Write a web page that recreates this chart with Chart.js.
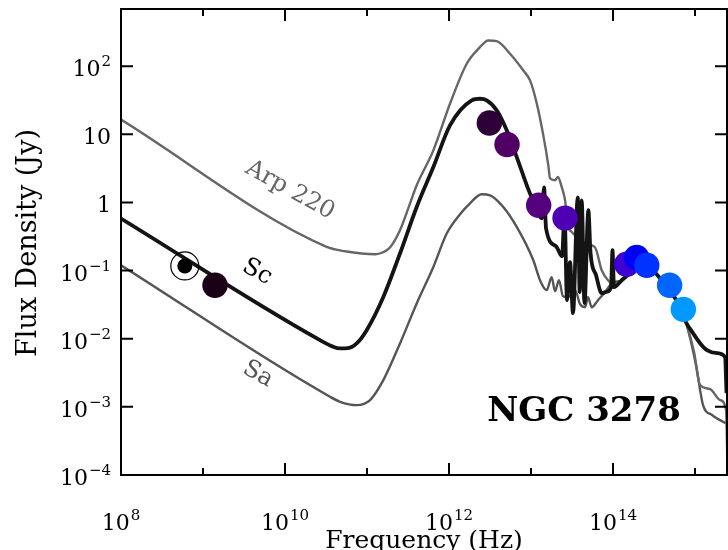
<!DOCTYPE html>
<html>
<head>
<meta charset="utf-8">
<script src="https://cdn.jsdelivr.net/npm/chart.js@4.4.0/dist/chart.umd.min.js"></script>
<style>
  html, body { margin: 0; padding: 0; background: #fff; }
</style>
</head>
<body>
<canvas id="sed" width="728" height="550"></canvas>
<script>
// templates as log10(nu) / log10(F)
const scLogNu = [8.000, 10.427, 10.585, 10.671, 10.768, 10.874, 10.996, 11.199, 11.402, 11.606, 11.809, 12.012, 12.277, 12.378, 12.460, 12.582, 12.704, 12.826, 12.988, 13.134, 13.159, 13.183, 13.305, 13.378, 13.409, 13.439, 13.476, 13.512, 13.570, 13.594, 13.618, 13.652, 13.699, 13.726, 13.793, 13.862, 13.927, 13.976, 13.994, 14.012, 14.106, 14.207, 14.329, 14.451, 14.573, 14.695, 14.817, 14.890, 14.976, 15.061, 15.146, 15.268, 15.366, 15.384]
const scLogF  = [-0.236, -2.021, -2.116, -2.142, -2.138, -2.069, -1.874, -1.386, -0.749, -0.066, 0.520, 1.132, 1.499, 1.523, 1.499, 1.352, 1.059, 0.667, 0.130, -0.232, 0.223, -0.378, -0.642, -0.789, -0.173, -1.434, -0.877, -1.625, 0.076, -1.317, 0.032, -1.478, -0.114, -0.745, -1.067, -1.331, -1.309, -1.243, -0.701, -1.243, -1.141, -1.038, -0.935, -0.965, -1.111, -1.302, -1.522, -1.757, -1.918, -2.065, -2.167, -2.211, -2.270, -2.798]

const arpLogNu = [8.000, 10.508, 10.732, 11.101, 11.195, 11.280, 11.402, 11.524, 11.606, 11.809, 12.012, 12.216, 12.378, 12.479, 12.582, 12.744, 12.906, 12.988, 13.070, 13.150, 13.211, 13.232, 13.293, 13.329, 13.374, 13.415, 13.451, 13.500, 13.573, 13.683, 13.780, 13.862, 13.939, 14.024, 14.106, 14.207, 14.329, 14.451, 14.573, 14.695, 14.817, 14.890, 14.988, 15.061, 15.183, 15.305, 15.378, 15.396]
const arpLogF  = [1.216, -0.652, -0.716, -0.760, -0.730, -0.661, -0.408, -0.016, 0.252, 0.765, 1.450, 2.037, 2.280, 2.378, 2.368, 2.183, 1.938, 1.792, 1.455, 0.985, 0.545, 0.355, 0.326, 0.374, 0.227, 0.032, -0.334, -0.437, -0.510, -0.613, -0.657, -0.994, -1.141, -1.214, -1.155, -1.038, -0.935, -0.965, -1.111, -1.302, -1.522, -1.757, -2.196, -2.680, -2.739, -2.900, -3.047, -3.853]

const saLogNu = [8.000, 10.549, 10.671, 10.874, 11.037, 11.199, 11.402, 11.606, 11.809, 11.972, 12.134, 12.256, 12.399, 12.500, 12.662, 12.826, 13.028, 13.110, 13.191, 13.252, 13.293, 13.341, 13.390, 13.451, 13.537, 13.598, 13.659, 13.695, 13.740, 13.817, 13.902, 13.984, 14.106, 14.207, 14.329, 14.451, 14.573, 14.695, 14.817, 14.890, 15.012, 15.098, 15.207, 15.396]
const saLogF  = [-0.921, -2.852, -2.925, -2.974, -2.900, -2.607, -2.069, -1.482, -0.946, -0.456, -0.173, -0.012, 0.120, 0.106, -0.066, -0.359, -0.848, -1.141, -1.287, -1.097, -1.302, -1.141, -1.375, -1.390, -1.287, -1.493, -1.537, -1.390, -1.537, -1.434, -1.317, -1.189, -1.141, -1.038, -0.935, -0.965, -1.111, -1.302, -1.522, -1.757, -2.387, -2.974, -3.120, -3.252]

// NGC 3278 photometry (Hz, Jy)
const obsFreq  = [1.4e9, 3.1e12, 5.1e12, 1.24e13, 2.6e13, 1.47e14, 1.94e14, 2.58e14, 4.9e14, 7.2e14]
const obsFlux  = [0.061, 14.7, 7.1, 0.91, 0.59, 0.124, 0.156, 0.12, 0.061, 0.027]
const obsColor = ['#1c0016', '#2e0038', '#500064', '#55007f', '#5000b4', '#3c00d2', '#0000f5', '#0033ff', '#0066ff', '#0099ff']
const lowFreq = [6.0e8]
const lowFlux = [0.117]

const xDecades = [8, 9, 10, 11, 12, 13, 14, 15]
const xLabeled = [8, 10, 12, 14]
const yDecades = [-4, -3, -2, -1, 0, 1, 2]

const SERIF = '"DejaVu Serif", serif'

const toXY = (nu, f) => nu.map((v, i) => ({x: Math.pow(10, v), y: Math.pow(10, f[i])}))

const pow10Label = (ctx, e, x, y, align, size) => {
    let base = '10', sup = String(e).replace('-', '\u2212')
    if (e === 0) { base = '1'; sup = '' }
    if (e === 1) { sup = '' }
    ctx.font = size + 'px ' + SERIF
    const wb = ctx.measureText(base).width
    ctx.font = Math.round(size * 0.68) + 'px ' + SERIF
    const ws = sup ? ctx.measureText(sup).width + 1 : 0
    const total = wb + ws
    let x0 = align === 'right' ? x - total : x - total / 2
    ctx.textAlign = 'left'
    ctx.textBaseline = 'alphabetic'
    ctx.font = size + 'px ' + SERIF
    ctx.fillText(base, x0, y)
    if (sup) {
        ctx.font = Math.round(size * 0.68) + 'px ' + SERIF
        ctx.fillText(sup, x0 + wb + 1, y - size * 0.45)
    }
}

const framePlugin = {
    id: 'frame',
    afterDraw(chart) {
        const ctx = chart.ctx
        const a = chart.chartArea
        const xs = chart.scales.x, ys = chart.scales.y
        ctx.save()
        ctx.strokeStyle = '#000'
        ctx.fillStyle = '#000'
        ctx.lineWidth = 2
        ctx.strokeRect(a.left, a.top, a.right - a.left, a.bottom - a.top)
        ctx.beginPath()
        xDecades.forEach(d => {
            const px = xs.getPixelForValue(Math.pow(10, d))
            const len = xLabeled.includes(d) ? 12 : 7
            ctx.moveTo(px, a.bottom); ctx.lineTo(px, a.bottom - len)
            ctx.moveTo(px, a.top); ctx.lineTo(px, a.top + len)
        })
        yDecades.forEach(d => {
            const py = ys.getPixelForValue(Math.pow(10, d))
            ctx.moveTo(a.left, py); ctx.lineTo(a.left + 12, py)
            ctx.moveTo(a.right, py); ctx.lineTo(a.right - 12, py)
        })
        ctx.stroke()
        yDecades.forEach(d => {
            const py = ys.getPixelForValue(Math.pow(10, d))
            pow10Label(ctx, d, a.left - 10, py + 10, 'right', 22)
        })
        xLabeled.forEach(d => {
            const px = xs.getPixelForValue(Math.pow(10, d))
            pow10Label(ctx, d, px, a.bottom + 55, 'center', 22)
        })
        // axis titles
        ctx.font = '25px ' + SERIF
        ctx.textAlign = 'center'
        ctx.textBaseline = 'alphabetic'
        ctx.fillText('Frequency (Hz)', (a.left + a.right) / 2, 548)
        ctx.save()
        ctx.translate(36, (a.top + a.bottom) / 2 + 1)
        ctx.rotate(-Math.PI / 2)
        ctx.font = '27px ' + SERIF
        ctx.fillText('Flux Density (Jy)', 0, 0)
        ctx.restore()
        // curve names
        const note = (txt, lnu, lf, color, size, ang, weight) => {
            ctx.save()
            ctx.translate(xs.getPixelForValue(Math.pow(10, lnu)), ys.getPixelForValue(Math.pow(10, lf)))
            ctx.rotate(ang * Math.PI / 180)
            ctx.font = (weight || '') + ' ' + size + 'px ' + SERIF
            ctx.fillStyle = color
            ctx.textAlign = 'center'
            ctx.textBaseline = 'middle'
            ctx.fillText(txt, 0, 0)
            ctx.restore()
        }
        note('Arp 220', 10.06, 0.18, '#666', 24, 29)
        note('Sc', 9.66, -1.02, '#000', 24, 29)
        note('Sa', 9.67, -2.52, '#555', 24, 29)
        note('NGC 3278', 13.646, -3.08, '#000', 34, 0, 'bold')
        ctx.restore()
    }
}

const line = (label, data, color, width) => ({
    label, data,
    borderColor: color,
    borderWidth: width,
    pointRadius: 0,
    fill: false,
    cubicInterpolationMode: 'monotone'
})

new Chart(document.getElementById('sed'), {
    type: 'line',
    data: {
        datasets: [
            {
                label: 'low', data: toXY(lowFreq.map(Math.log10), lowFlux.map(Math.log10)),
                showLine: false, pointRadius: 7.5, pointBackgroundColor: '#000', pointBorderWidth: 0
            },
            {
                label: 'lowRing', data: toXY(lowFreq.map(Math.log10), lowFlux.map(Math.log10)),
                showLine: false, pointRadius: 14, pointBackgroundColor: 'rgba(0,0,0,0)',
                pointBorderColor: '#000', pointBorderWidth: 1.2
            },
            {
                label: 'NGC 3278', data: obsFreq.map((v, i) => ({x: v, y: obsFlux[i]})),
                showLine: false, pointRadius: 12.7, pointBackgroundColor: obsColor, pointBorderWidth: 0
            },
            line('Sc', toXY(scLogNu, scLogF), '#141414', 3.8),
            line('Arp 220', toXY(arpLogNu, arpLogF), '#666666', 2.4),
            line('Sa', toXY(saLogNu, saLogF), '#555555', 2.4)
        ]
    },
    options: {
        responsive: false,
        animation: false,
        events: [],
        layout: { autoPadding: false, padding: { top: 9, right: 1, left: 0, bottom: 0 } },
        plugins: { legend: { display: false }, tooltip: { enabled: false } },
        scales: {
            x: {
                type: 'logarithmic',
                min: 1e8, max: Math.pow(10, 15.39),
                grid: { display: false }, border: { display: false },
                ticks: { display: false },
                afterFit: (s) => { s.height = 75 }
            },
            y: {
                type: 'logarithmic',
                min: 1e-4, max: Math.pow(10, 2.84),
                grid: { display: false }, border: { display: false },
                ticks: { display: false },
                afterFit: (s) => { s.width = 121 }
            }
        }
    },
    plugins: [framePlugin]
})
</script>
</body>
</html>
